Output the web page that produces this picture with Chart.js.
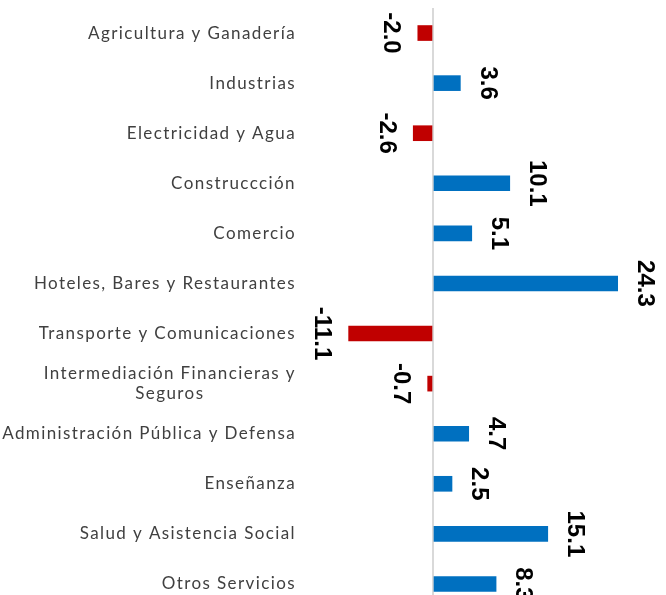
<!DOCTYPE html>
<html>
<head>
<meta charset="utf-8">
<script src="https://cdn.jsdelivr.net/npm/chart.js@4"></script>
<style>
  html, body { margin: 0; padding: 0; background: #fff; overflow: hidden; }
</style>
</head>
<body>
<canvas id="myChart" width="666" height="609"></canvas>
<script>
// setup
const sectores = [
  'Agricultura y Ganadería',
  'Industrias',
  'Electricidad y Agua',
  'Construccción',
  'Comercio',
  'Hoteles, Bares y Restaurantes',
  'Transporte y Comunicaciones',
  ['Intermediación Financieras y', 'Seguros'],
  'Administración Pública y Defensa',
  'Enseñanza',
  'Salud y Asistencia Social',
  'Otros Servicios'
];
const variacion = [-2.0, 3.6, -2.6, 10.1, 5.1, 24.3, -11.1, -0.7, 4.7, 2.5, 15.1, 8.3];

const azul = '#0070C0';
const rojo = '#C00000';

// category labels: right-aligned block, multi-line centred
const etiquetas = {
  id: 'etiquetas',
  afterDraw(chart) {
    const ctx = chart.ctx;
    const y = chart.scales.y;
    const right = chart.chartArea.left - 23;
    ctx.save();
    ctx.font = '17px Lato';
    ctx.letterSpacing = '1.4px';
    ctx.fillStyle = '#404040';
    ctx.textBaseline = 'middle';
    ctx.textAlign = 'center';
    sectores.forEach((lab, i) => {
      const lines = Array.isArray(lab) ? lab : [lab];
      const w = Math.max(...lines.map(l => ctx.measureText(l).width));
      const cy = y.getPixelForValue(i);
      const lh = 20;
      lines.forEach((l, j) => {
        ctx.fillText(l, right - w / 2, cy + (j - (lines.length - 1) / 2) * lh);
      });
    });
    ctx.restore();
  }
};

// value labels rotated 90 degrees
const valores = {
  id: 'valores',
  afterDatasetsDraw(chart) {
    const ctx = chart.ctx;
    const meta = chart.getDatasetMeta(0);
    ctx.save();
    ctx.font = 'bold 24px "Liberation Sans"';
    ctx.fillStyle = '#000';
    ctx.textAlign = 'center';
    ctx.textBaseline = 'middle';
    meta.data.forEach((bar, i) => {
      const v = variacion[i];
      const x = bar.x + (v < 0 ? -27 : 27);
      ctx.save();
      ctx.translate(x, bar.y);
      ctx.rotate(Math.PI / 2);
      ctx.fillText(v.toFixed(1), 0, 0);
      ctx.restore();
    });
    ctx.restore();
  }
};

const data = {
  labels: sectores,
  datasets: [{
    data: variacion,
    backgroundColor: variacion.map(v => v < 0 ? rojo : azul),
    barThickness: 15
  }]
};

// config
const config = {
  type: 'bar',
  data,
  options: {
    indexAxis: 'y',
    responsive: false,
    animation: false,
    layout: { padding: { left: 319, right: 5, top: 8, bottom: 0 } },
    plugins: { legend: { display: false }, tooltip: { enabled: false } },
    scales: {
      x: {
        min: -15,
        max: 30,
        ticks: { display: false, stepSize: 5 },
        border: { display: false },
        grid: {
          drawTicks: false,
          lineWidth: 2,
          color: c => c.tick && c.tick.value === 0 ? '#d9d9d9' : 'rgba(0,0,0,0)'
        }
      },
      y: {
        ticks: { display: false },
        border: { display: false },
        grid: { display: false, drawTicks: false }
      }
    }
  },
  plugins: [etiquetas, valores]
};

// render init block
const myChart = new Chart(document.getElementById('myChart'), config);
</script>
</body>
</html>
